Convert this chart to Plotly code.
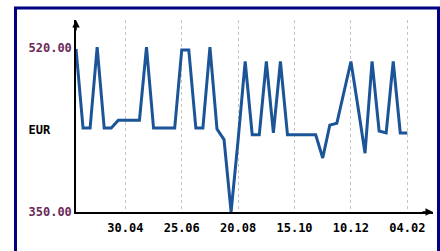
import plotly.graph_objects as go

# Weekly EUR values
dates = [
    "2008-03-12", "2008-03-19", "2008-03-26", "2008-04-02", "2008-04-09", "2008-04-16",
    "2008-04-23", "2008-04-30", "2008-05-07", "2008-05-14", "2008-05-21", "2008-05-28",
    "2008-06-04", "2008-06-11", "2008-06-18", "2008-06-25", "2008-07-02", "2008-07-09",
    "2008-07-16", "2008-07-23", "2008-07-30", "2008-08-06", "2008-08-13", "2008-08-20",
    "2008-08-27", "2008-09-03", "2008-09-10", "2008-09-17", "2008-09-24", "2008-10-01",
    "2008-10-08", "2008-10-15", "2008-10-22", "2008-10-29", "2008-11-05", "2008-11-12",
    "2008-11-19", "2008-11-26", "2008-12-03", "2008-12-10", "2008-12-17", "2008-12-24",
    "2008-12-31", "2009-01-07", "2009-01-14", "2009-01-21", "2009-01-28", "2009-02-04",
]
values = [
    519, 437, 437, 521, 437, 437,
    445, 445, 445, 445, 521, 437,
    437, 437, 437, 518, 518, 437,
    437, 521, 436, 425, 350, 425,
    506, 430, 430, 506, 432, 506,
    430, 430, 430, 430, 430, 406,
    440, 442, 474, 506, 459, 411,
    506, 434, 432, 506, 432, 432,
]

tick_dates = ["2008-04-30", "2008-06-25", "2008-08-20", "2008-10-15", "2008-12-10", "2009-02-04"]
tick_labels = ["30.04", "25.06", "20.08", "15.10", "10.12", "04.02"]

y_tickvals = [520, 435, 350]
y_ticklabels = ["<span style='color:#6a2a5a'>520.00</span>", "EUR\u00a0\u00a0\u00a0",
                "<span style='color:#6a2a5a'>350.00</span>"]

fig = go.Figure()
fig.add_trace(go.Scatter(
    x=dates, y=values, mode="lines",
    line=dict(color="#1b5597", width=3),
    hoverinfo="skip", showlegend=False,
))

mono = "DejaVu Sans Mono"
fig.update_layout(
    width=440, height=251,
    margin=dict(l=76, r=7, t=20, b=39),
    paper_bgcolor="white", plot_bgcolor="white",
    xaxis=dict(
        type="date", range=["2008-03-12", "2009-03-01 12:00"],
        tickvals=tick_dates, ticktext=tick_labels,
        showgrid=True, gridcolor="#c4c4c4", griddash="dot", gridwidth=1,
        showline=True, linecolor="black", linewidth=2,
        ticks="", zeroline=False, ticklabelstandoff=4,
        tickfont=dict(family=mono, size=12, color="black", weight="bold"),
    ),
    yaxis=dict(
        range=[350, 549],
        tickvals=y_tickvals, ticktext=y_ticklabels,
        showgrid=False, showline=True, linecolor="black", linewidth=1.5,
        ticks="", zeroline=False,
        tickfont=dict(family=mono, size=12, color="black", weight="bold"),
    ),
    shapes=[dict(
        type="rect", xref="paper", yref="paper",
        x0=-0.1695, x1=1.0154, y0=-0.35, y1=1.0625,
        line=dict(color="#000080", width=3), fillcolor="rgba(0,0,0,0)",
        layer="above",
    )],
    annotations=[
        dict(x=0, y=1, xref="paper", yref="paper", text="", showarrow=True,
             ax=0, ay=12, arrowhead=2, arrowsize=1, arrowwidth=1.5, arrowcolor="black"),
        dict(x=1, y=0, xref="paper", yref="paper", text="", showarrow=True,
             ax=-12, ay=0, arrowhead=2, arrowsize=1, arrowwidth=1.5, arrowcolor="black"),
    ],
)

fig.write_html("out.html", config={"displayModeBar": False},
               post_script="document.body.style.margin='0';")
